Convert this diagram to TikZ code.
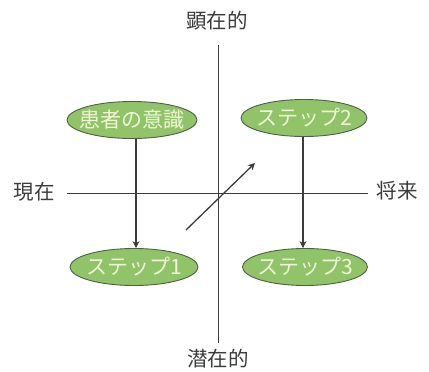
\documentclass[tikz,border=0pt]{standalone}
\usepackage{fontspec}
\newfontfamily\cjk{Noto Sans CJK JP}
\usetikzlibrary{shapes.geometric,arrows.meta}
\definecolor{leaf}{RGB}{145,195,105}
\definecolor{rim}{RGB}{80,95,70}
\definecolor{ink}{RGB}{60,60,60}
\definecolor{pale}{RGB}{240,245,215}
\newcommand{\zw}[1]{\makebox[0pt]{#1}}
\begin{document}
\begin{tikzpicture}[x=1pt,y=-1pt,
  oval/.style={ellipse,draw=rim,line width=0.9pt,fill=leaf,minimum width=#1,minimum height=37,inner sep=0pt,text=pale,font=\cjk\fontsize{21}{21}\selectfont},
  axis/.style={draw=ink,line width=1pt},
  lab/.style={text=ink,font=\cjk\fontsize{20.5}{20.5}\selectfont,inner sep=0pt},
  arr/.style={draw=ink,line width=1.3pt,-{Stealth[length=7pt,width=7pt]}}]
\useasboundingbox (0,0) rectangle (429,372);
\coordinate (vt) at (218,45);
\coordinate (vb) at (218,343);
\coordinate (hl) at (67,193);
\coordinate (hr) at (368,193);
\draw[axis] (vt) -- (vb);
\draw[axis] (hl) -- (hr);
\node[lab] (top) at (217,21) {顕在的};
\node[lab] (bot) at (218,359) {潜在的};
\node[lab] (left) at (34,192) {現在};
\node[lab] (right) at (397,191) {将来};
\node[oval=130] (a) at (132,120) {\zw{患者の意識}};
\node[oval=126] (s2) at (304,118) {\zw{ステップ2}};
\node[oval=128] (s1) at (134,267) {\zw{ステップ1}};
\node[oval=125] (s3) at (305,267) {\zw{ステップ3}};
\draw[arr] (a.south -| 136,0) -- (s1.north -| 136,0);
\draw[arr] (s2.south -| 303,0) -- (s3.north -| 303,0);
\coordinate (d0) at (186,230);
\coordinate (d1) at (255,163);
\draw[arr] (d0) -- (d1);
\end{tikzpicture}
\end{document}
